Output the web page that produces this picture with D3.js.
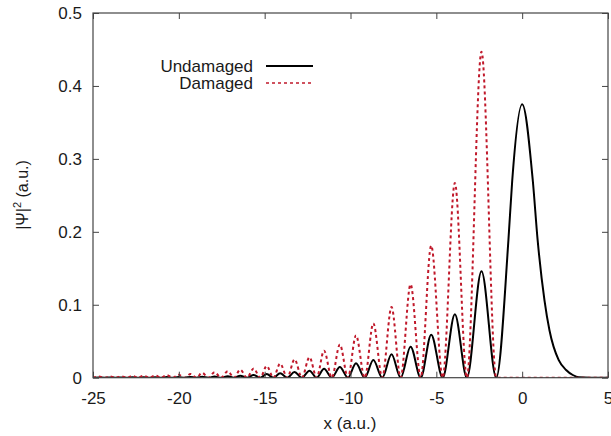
<!DOCTYPE html>
<html>
<head>
<meta charset="utf-8">
<script src="https://cdn.jsdelivr.net/npm/d3@7"></script>
<style>
  html, body { margin: 0; padding: 0; background: #fff; }
  svg { display: block; }
  text { font-family: "Liberation Sans", Arial, Helvetica, sans-serif; fill: #1a1a1a; }
</style>
</head>
<body>
<svg id="chart" width="611" height="436"></svg>
<script>
// ---- data ----
const xTicks = [-25, -20, -15, -10, -5, 0, 5];
const yTicks = [0, 0.1, 0.2, 0.3, 0.4, 0.5];

// positions of the oscillation maxima (shared by both curves)
const lobePeakX = [-24.65, -24.0, -23.36, -22.7, -22.05, -21.38, -20.7, -20.02, -19.32, -18.64,
  -17.92, -17.15, -16.42, -15.64, -14.88, -14.1, -13.26, -12.39, -11.54, -10.62,
  -9.68, -8.67, -7.61, -6.50, -5.30, -3.92, -2.37];
// positions of the nodes (zeros) following each maximum
const lobeZeroX = [-24.33, -23.68, -23.03, -22.38, -21.72, -21.04, -20.36, -19.67, -18.98, -18.28,
  -17.54, -16.79, -16.03, -15.26, -14.49, -13.68, -12.83, -11.97, -11.09, -10.15,
  -9.17, -8.15, -7.08, -5.91, -4.63, -3.22, -1.51];

const undamagedPeakY = [0.0003, 0.0004, 0.0004, 0.0005, 0.0006, 0.0007, 0.0008, 0.0009, 0.0011, 0.0013,
  0.0016, 0.002, 0.0027, 0.0037, 0.005, 0.006, 0.0078, 0.0096, 0.0123, 0.0146,
  0.0197, 0.0243, 0.032, 0.0425, 0.059, 0.087, 0.146];
const damagedPeakY = [0.0015, 0.0017, 0.002, 0.0024, 0.0027, 0.003, 0.0036, 0.0042, 0.005, 0.0066,
  0.0074, 0.0088, 0.011, 0.0126, 0.016, 0.0193, 0.025, 0.028, 0.037, 0.0455,
  0.058, 0.0745, 0.097, 0.128, 0.181, 0.267, 0.447];

// undamaged main lobe after the last node
const centralX = [-0.8, -0.58, 0, 0.62, 0.9, 1.30, 1.59, 2.13, 2.56, 2.95, 3.3, 4, 5];
const centralY = [0.189, 0.27, 0.375, 0.27, 0.189, 0.106, 0.065, 0.024, 0.0106, 0.0037, 0.0005, 0, 0];
// damaged tail after the last node
const damagedTailX = [5];
const damagedTailY = [0];

const seriesNames = ["Undamaged", "Damaged"];
const seriesColors = ["#000000", "#c0182a"];

// ---- build point tables ----
function lobes(peaksY) {
  const pts = [{x: -25, y: 0}];
  lobePeakX.forEach((px, i) => {
    pts.push({x: px, y: peaksY[i]});
    pts.push({x: lobeZeroX[i], y: 0});
  });
  return pts;
}
const undamaged = lobes(undamagedPeakY).concat(centralX.map((x, i) => ({x, y: centralY[i]})));
const damaged = lobes(damagedPeakY).concat(damagedTailX.map((x, i) => ({x, y: damagedTailY[i]})));

// ---- layout ----
const svg = d3.select("#chart");
const L = 93, R = 608, T = 13, B = 377.7;
const x = d3.scaleLinear().domain([-25, 5]).range([L, R]);
const y = d3.scaleLinear().domain([0, 0.5]).range([B, T]);

svg.append("defs").append("clipPath").attr("id", "plotclip")
  .append("rect").attr("x", L).attr("y", T - 2).attr("width", R - L).attr("height", B - T + 2);

const line = d3.line().x(d => x(d.x)).y(d => y(d.y)).curve(d3.curveMonotoneX);

const plot = svg.append("g").attr("clip-path", "url(#plotclip)");
plot.append("path").datum(undamaged)
  .attr("d", line).attr("fill", "none")
  .attr("stroke", seriesColors[0]).attr("stroke-width", 2).attr("stroke-linejoin", "round");
plot.append("path").datum(damaged)
  .attr("d", line).attr("fill", "none")
  .attr("stroke", seriesColors[1]).attr("stroke-width", 2)
  .attr("stroke-dasharray", "3,3");

// ---- axes (inward ticks, mirrored) ----
const tickLen = 6;
const axisColor = "#444";
const fs = 17;

const xb = d3.axisBottom(x).tickValues(xTicks).tickSize(-tickLen).tickPadding(14).tickFormat(d3.format("d"));
const gx = svg.append("g").attr("transform", `translate(0,${B})`).call(xb);
gx.select(".domain").remove();
gx.selectAll("line").attr("stroke", axisColor);
gx.selectAll("text").attr("font-size", fs).attr("fill", "#1a1a1a")
  .attr("font-family", "Liberation Sans, Arial, sans-serif")
  .text(d => d3.format("d")(d).replace("−", "-"));

const xt = d3.axisTop(x).tickValues(xTicks).tickSize(-tickLen).tickFormat("");
const gxt = svg.append("g").attr("transform", `translate(0,${T})`).call(xt);
gxt.select(".domain").remove();
gxt.selectAll("line").attr("stroke", axisColor);

const yl = d3.axisLeft(y).tickValues(yTicks).tickSize(-tickLen).tickPadding(11)
  .tickFormat(d => d === 0 ? "0" : d3.format(".1f")(d));
const gy = svg.append("g").attr("transform", `translate(${L},0)`).call(yl);
gy.select(".domain").remove();
gy.selectAll("line").attr("stroke", axisColor);
gy.selectAll("text").attr("font-size", fs).attr("fill", "#1a1a1a")
  .attr("font-family", "Liberation Sans, Arial, sans-serif");

const yr = d3.axisRight(y).tickValues(yTicks).tickSize(-tickLen).tickFormat("");
const gyr = svg.append("g").attr("transform", `translate(${R},0)`).call(yr);
gyr.select(".domain").remove();
gyr.selectAll("line").attr("stroke", axisColor);

// frame
svg.append("rect").attr("x", L).attr("y", T).attr("width", R - L).attr("height", B - T)
  .attr("fill", "none").attr("stroke", axisColor).attr("stroke-width", 1.2);

// axis titles
svg.append("text").attr("x", 350).attr("y", 429)
  .attr("text-anchor", "middle").attr("font-size", fs).text("x (a.u.)");

const yt = svg.append("text").attr("transform", "translate(28,195) rotate(-90)")
  .attr("text-anchor", "middle").attr("font-size", 16);
yt.append("tspan").text("|Ψ|");
yt.append("tspan").attr("font-size", 11).attr("dy", -7).text("2");
yt.append("tspan").attr("dy", 7).text(" (a.u.)");

// legend
const legY = [66, 83];
seriesNames.forEach((name, i) => {
  svg.append("text").attr("x", 253).attr("y", legY[i] + 6)
    .attr("text-anchor", "end").attr("font-size", fs).text(name);
  const ln = svg.append("line").attr("x1", 266).attr("x2", 313)
    .attr("y1", legY[i]).attr("y2", legY[i])
    .attr("stroke", seriesColors[i]).attr("stroke-width", i === 0 ? 2 : 1.5);
  if (i === 1) ln.attr("stroke-dasharray", "3,3");
});
</script>
</body>
</html>
